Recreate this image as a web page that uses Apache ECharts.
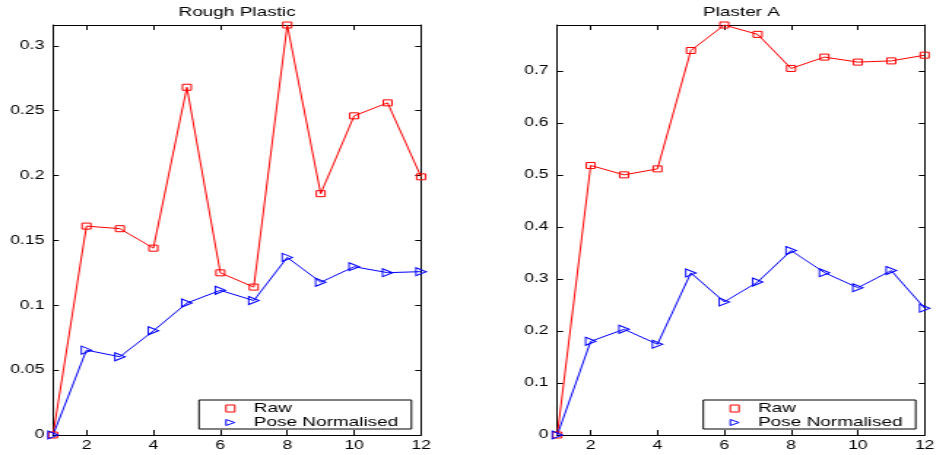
<!DOCTYPE html>
<html><head><meta charset="utf-8">
<script src="https://cdn.jsdelivr.net/npm/echarts@6/dist/echarts.min.js"></script>
<style>
html,body{margin:0;padding:0;background:#fff;overflow:hidden}
#wrap{width:938px;height:455px;overflow:hidden}
#c{width:642.5px;height:455px;transform:scaleX(1.46);transform-origin:0 0}
</style>
</head><body><div id="wrap"><div id="c"></div></div>
<script>
const xValues = [1,2,3,4,5,6,7,8,9,10,11,12];
const xTicks = [2,4,6,8,10,12];
const titles = ['Rough Plastic', 'Plaster A'];
const seriesNames = ['Raw', 'Pose Normalised'];
const roughRaw  = [0, 0.161, 0.159, 0.144, 0.268, 0.125, 0.114, 0.316, 0.186, 0.246, 0.256, 0.199];
const roughPose = [0, 0.0654, 0.0603, 0.0803, 0.1017, 0.1115, 0.1036, 0.1369, 0.1177, 0.1297, 0.1251, 0.1259];
const plasterRaw  = [0, 0.518, 0.5, 0.5115, 0.739, 0.788, 0.770, 0.7045, 0.7263, 0.7167, 0.719, 0.730];
const plasterPose = [0, 0.180, 0.2032, 0.1744, 0.3115, 0.2558, 0.294, 0.3545, 0.312, 0.283, 0.316, 0.2437];
const roughYTicks = [0, 0.05, 0.1, 0.15, 0.2, 0.25, 0.3];
const plasterYTicks = [0, 0.1, 0.2, 0.3, 0.4, 0.5, 0.6, 0.7];
const roughYMax = 0.316;
const plasterYMax = 0.788;

const FONT = 'Liberation Sans, Arial, Helvetica, sans-serif';
const RED = '#ff0000', BLUE = '#0000ff';
const TRI = 'path://M0,0L10,5L0,10Z';

const grids = [
  {left: 36.3, top: 25, width: 252.1, height: 410},
  {left: 381.7, top: 25, width: 252.3, height: 410}
];
const yMaxes = [roughYMax, plasterYMax];
const yTicks = [roughYTicks, plasterYTicks];
const data = [[roughRaw, roughPose], [plasterRaw, plasterPose]];

const xAxes = [], yAxes = [], series = [], titleOpts = [], legends = [];
grids.forEach((g, i) => {
  const base = {
    type: 'value', gridIndex: i, min: 1, max: 12,
    axisLine: {show: true, onZero: false, lineStyle: {color: '#000', width: 1}},
    splitLine: {show: false}
  };
  xAxes.push(Object.assign({}, base, {
    position: 'bottom',
    axisTick: {show: true, inside: true, length: 5, customValues: xTicks, lineStyle: {color: '#000'}},
    axisLabel: {show: true, customValues: xTicks, color: '#000', fontFamily: FONT, fontSize: 12, margin: 5}
  }));
  xAxes.push(Object.assign({}, base, {
    position: 'top',
    axisTick: {show: true, inside: true, length: 5, customValues: xTicks, lineStyle: {color: '#000'}},
    axisLabel: {show: false}
  }));
  const ybase = {
    type: 'value', gridIndex: i, min: 0, max: yMaxes[i],
    axisLine: {show: true, onZero: false, lineStyle: {color: '#000', width: 1}},
    splitLine: {show: false}
  };
  yAxes.push(Object.assign({}, ybase, {
    position: 'left',
    axisTick: {show: true, inside: true, length: 4, customValues: yTicks[i], lineStyle: {color: '#000'}},
    axisLabel: {show: true, customValues: yTicks[i], color: '#000', fontFamily: FONT, fontSize: 12, margin: 6}
  }));
  yAxes.push(Object.assign({}, ybase, {
    position: 'right',
    axisTick: {show: true, inside: true, length: 4, customValues: yTicks[i], lineStyle: {color: '#000'}},
    axisLabel: {show: false}
  }));
  const [raw, pose] = data[i];
  series.push({
    name: seriesNames[0], type: 'line', xAxisIndex: i * 2, yAxisIndex: i * 2,
    data: xValues.map((x, k) => [x, raw[k]]),
    symbol: 'rect', symbolSize: [6, 6], showAllSymbol: true, clip: false,
    lineStyle: {color: RED, width: 1},
    itemStyle: {color: 'rgba(0,0,0,0)', borderColor: RED, borderWidth: 1},
    emphasis: {disabled: true}, animation: false
  });
  series.push({
    name: seriesNames[1], type: 'line', xAxisIndex: i * 2, yAxisIndex: i * 2,
    data: xValues.map((x, k) => [x, pose[k]]),
    symbol: TRI, symbolSize: [7, 8], showAllSymbol: true, clip: false,
    lineStyle: {color: BLUE, width: 1},
    itemStyle: {color: 'rgba(0,0,0,0)', borderColor: BLUE, borderWidth: 1},
    emphasis: {disabled: true}, animation: false
  });
  titleOpts.push({
    text: titles[i], left: g.left + g.width / 2, top: 6, textAlign: 'center', padding: 0,
    textStyle: {fontFamily: FONT, fontSize: 13, fontWeight: 'normal', color: '#000'}
  });
  legends.push({
    orient: 'vertical', left: g.left + 100, top: 400,
    itemWidth: 6, itemHeight: 7, itemGap: 1,
    padding: [2, 9, 0, 18],
    borderColor: '#000', borderWidth: 1, backgroundColor: '#fff',
    selectedMode: false,
    textStyle: {fontFamily: FONT, fontSize: 13, color: '#000', padding: [0, 0, 0, 8]},
    data: [
      {name: seriesNames[0], icon: 'rect', itemStyle: {color: 'rgba(0,0,0,0)', borderColor: RED, borderWidth: 1}},
      {name: seriesNames[1], icon: TRI, itemStyle: {color: 'rgba(0,0,0,0)', borderColor: BLUE, borderWidth: 1}}
    ]
  });
});

const chart = echarts.init(document.getElementById('c'), null, {renderer: 'canvas'});
chart.setOption({
  animation: false,
  backgroundColor: '#fff',
  title: titleOpts,
  legend: legends,
  grid: grids,
  xAxis: xAxes,
  yAxis: yAxes,
  series: series
});
</script></body></html>
